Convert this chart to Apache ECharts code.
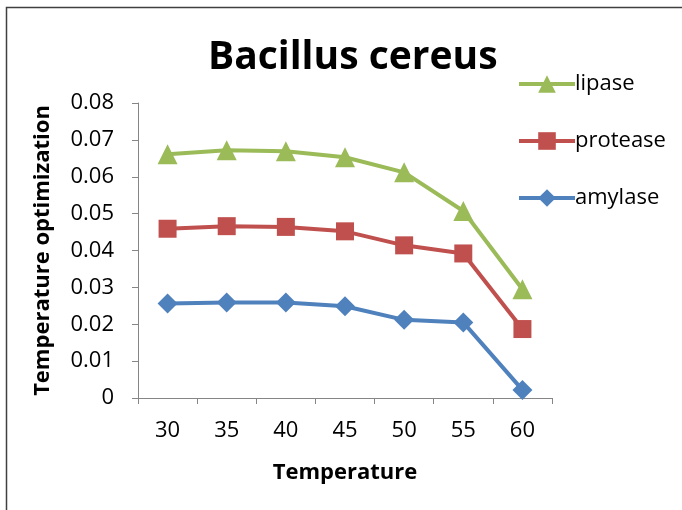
<!DOCTYPE html>
<html>
<head>
<meta charset="utf-8">
<script src="https://cdn.jsdelivr.net/npm/echarts@6/dist/echarts.min.js"></script>
<style>
html, body { margin: 0; padding: 0; background: #fff; }
#chart { width: 682px; height: 510px; }
</style>
</head>
<body>
<div id="chart"></div>
<script type="text/javascript">
var temps = ['30', '35', '40', '45', '50', '55', '60'];
var lipase = [0.0661, 0.0672, 0.0669, 0.0653, 0.0612, 0.0507, 0.0295];
var protease = [0.0459, 0.0466, 0.0464, 0.0452, 0.0414, 0.0392, 0.0187];
var amylase = [0.0256, 0.0259, 0.0259, 0.0249, 0.0212, 0.0205, 0.0022];

var font = '"Open Sans", "Noto Sans", sans-serif';
var myChart = echarts.init(document.getElementById('chart'));

function line(name, data, color, symbol, size) {
    return {
        name: name,
        type: 'line',
        data: data,
        symbol: symbol,
        symbolSize: size,
        color: color,
        lineStyle: { width: 4, color: color },
        itemStyle: { color: color },
        animation: false
    };
}

var option = {
    backgroundColor: '#fff',
    textStyle: { fontFamily: font },
    title: {
        text: 'Bacillus cereus',
        left: 203,
        top: 33,
        textStyle: { fontSize: 39, fontWeight: 'bold', color: '#000', fontFamily: font }
    },
    legend: {
        orient: 'vertical',
        left: 512,
        top: 68,
        itemGap: 35,
        itemWidth: 56,
        itemHeight: 22,
        data: ['lipase', 'protease', 'amylase'],
        lineStyle: { width: 4 },
        textStyle: { fontSize: 22, color: '#000', fontFamily: font, padding: [0, 0, 0, -5] }
    },
    grid: { left: 138, right: 130, top: 103, bottom: 112 },
    xAxis: {
        type: 'category',
        data: temps,
        boundaryGap: true,
        name: 'Temperature',
        nameLocation: 'middle',
        nameGap: 64,
        nameTextStyle: { fontSize: 22, fontWeight: 'bold', color: '#000' },
        axisLine: { lineStyle: { color: '#868686', width: 1 } },
        axisTick: { show: true, length: 6, lineStyle: { color: '#868686' } },
        axisLabel: { fontSize: 22, color: '#000', margin: 22 }
    },
    yAxis: {
        type: 'value',
        min: 0,
        max: 0.08,
        interval: 0.01,
        name: 'Temperature optimization',
        nameLocation: 'middle',
        nameGap: 84,
        nameTextStyle: { fontSize: 22, fontWeight: 'bold', color: '#000' },
        axisLine: { show: true, lineStyle: { color: '#868686', width: 1 } },
        axisTick: { show: true, length: 6, lineStyle: { color: '#868686' } },
        splitLine: { show: false },
        axisLabel: {
            fontSize: 22, color: '#000', margin: 24,
            formatter: function (v) { return v === 0 ? '0' : v.toFixed(2); }
        }
    },
    graphic: [{
        type: 'rect',
        shape: { x: 6.5, y: 7.5, width: 720, height: 560 },
        style: { fill: 'none', stroke: '#404040', lineWidth: 1.5 },
        silent: true
    }],
    series: [
        line('amylase', amylase, '#4F81BD', 'diamond', 20),
        line('protease', protease, '#C0504D', 'rect', 18),
        line('lipase', lipase, '#9BBB59', 'triangle', 20)
    ]
};
myChart.setOption(option);
</script>
</body>
</html>
